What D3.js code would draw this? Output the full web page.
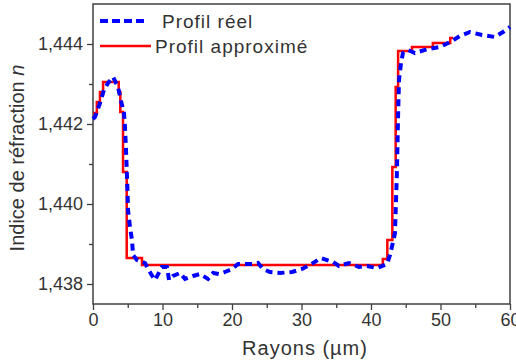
<!DOCTYPE html>
<html>
<head>
<meta charset="utf-8">
<script src="https://cdn.jsdelivr.net/npm/d3@7"></script>
<style>
  html, body { margin: 0; padding: 0; background: #fff; }
  svg { display: block; font-family: "Liberation Sans", Arial, sans-serif; }
</style>
</head>
<body>
<svg id="chart" width="516" height="362"></svg>
<script>
// Measured refractive index profile (radius in µm, index n)
const realX = [0, 0.29, 1.01, 1.58, 2.16, 2.88, 3.6, 4.03, 4.46, 4.6, 4.75, 4.89, 4.96, 5.04, 5.32, 5.61, 5.76, 6.33, 7.48,
  8.35, 8.92, 9.93, 10.65, 10.94, 11.51, 12.52, 13.24, 14.39, 15.4, 16.55, 17.27, 18.13, 18.99, 20.0, 20.86, 21.87, 22.88,
  23.74, 24.46, 25.47, 26.91, 28.63, 30.07, 31.22, 32.81, 34.53, 35.4, 36.83, 38.27, 39.42, 40.86, 42.3, 42.73, 43.17,
  43.45, 43.6, 43.74, 43.88, 44.03, 44.32, 44.6, 45.32, 46.33, 48.2, 49.93, 51.37, 52.81, 54.24, 55.97, 57.84, 58.99, 60.0];
const realN = [1.442125, 1.442175, 1.442525, 1.44285, 1.443025, 1.443175, 1.442925, 1.442575, 1.442275, 1.441925, 1.44135,
  1.440675, 1.44035, 1.43985, 1.439425, 1.4391, 1.438725, 1.4386, 1.438525,
  1.43825, 1.4381, 1.438425, 1.438425, 1.4381, 1.4382, 1.438275, 1.438125, 1.4382, 1.43825, 1.438125, 1.438275, 1.43825,
  1.4383, 1.438375, 1.4385, 1.4385, 1.4385,
  1.438525, 1.438375, 1.4383, 1.438275, 1.4383, 1.438375, 1.438475, 1.43865, 1.43855, 1.43845, 1.438525, 1.438425,
  1.43845, 1.4384, 1.4385, 1.438725, 1.43905,
  1.439275, 1.4401, 1.44085, 1.4421, 1.4431, 1.443525, 1.443775, 1.44385, 1.443775, 1.443875, 1.443925, 1.44405,
  1.4442, 1.4443, 1.444225, 1.444175, 1.4443, 1.444425];

// Step approximation: each index value holds from its radius to the next one
const stepX = [0, 0.55, 1.0, 1.45, 3.7, 3.93, 4.32, 4.85, 7.05, 41.7, 42.35, 43.07, 43.55, 43.9, 45.9, 48.9, 51.4, 51.8];
const stepN = [1.442275, 1.44255, 1.4428, 1.44305, 1.4428, 1.4423, 1.4408, 1.43865, 1.438475, 1.438625, 1.4391,
  1.440925, 1.442925, 1.443825, 1.443925, 1.444025, 1.44415, 1.44415];

const xMajor = [0, 10, 20, 30, 40, 50, 60];
const xMinor = [5, 15, 25, 35, 45, 55];
const yMajor = [1.438, 1.440, 1.442, 1.444];
const yMinor = [1.439, 1.441, 1.443];

const seriesNames = ["Profil réel", "Profil approximé"];
const xTitle = "Rayons (µm)";

const svg = d3.select("#chart");
const plotLeft = 93, plotRight = 510, plotTop = 4, plotBottom = 304;

const x = d3.scaleLinear().domain([0, 60]).range([plotLeft, plotRight]);
const y = d3.scaleLinear().domain([1.4375, 1.445]).range([plotBottom, plotTop]);

const axisColor = "#404040";
const fmt = v => d3.format(".3f")(v).replace(".", ",");

// plot frame
svg.append("rect")
  .attr("x", plotLeft).attr("y", plotTop)
  .attr("width", plotRight - plotLeft).attr("height", plotBottom - plotTop)
  .attr("fill", "none").attr("stroke", axisColor).attr("stroke-width", 1.5);

function styleAxis(g) {
  g.select(".domain").remove();
  g.selectAll(".tick line").attr("stroke", axisColor).attr("stroke-width", 1.3);
  g.selectAll(".tick text").attr("fill", "#333").attr("font-size", 18)
    .attr("font-family", "Liberation Sans, Arial, sans-serif");
}

// x axis
svg.append("g").attr("transform", `translate(0,${plotBottom})`)
  .call(d3.axisBottom(x).tickValues(xMajor).tickSize(6).tickPadding(3).tickFormat(d3.format("d")))
  .call(styleAxis);
svg.append("g").attr("transform", `translate(0,${plotBottom})`)
  .call(d3.axisBottom(x).tickValues(xMinor).tickSize(4).tickFormat(""))
  .call(styleAxis);

// y axis
svg.append("g").attr("transform", `translate(${plotLeft},0)`)
  .call(d3.axisLeft(y).tickValues(yMajor).tickSize(6).tickPadding(4).tickFormat(fmt))
  .call(styleAxis);
svg.append("g").attr("transform", `translate(${plotLeft},0)`)
  .call(d3.axisLeft(y).tickValues(yMinor).tickSize(4).tickFormat(""))
  .call(styleAxis);

// axis titles
svg.append("text")
  .attr("x", 305).attr("y", 355)
  .attr("text-anchor", "middle")
  .attr("font-size", 20).attr("letter-spacing", 1).attr("fill", "#333")
  .text(xTitle);

const yt = svg.append("text")
  .attr("transform", "translate(24,158) rotate(-90)")
  .attr("text-anchor", "middle")
  .attr("font-size", 20).attr("fill", "#333");
yt.append("tspan").text("Indice de réfraction ");
yt.append("tspan").attr("font-style", "italic").text("n");

// curves
const stepLine = d3.line().x(d => x(d[0])).y(d => y(d[1])).curve(d3.curveStepAfter);
const realLine = d3.line().x(d => x(d[0])).y(d => y(d[1]));

svg.append("path")
  .datum(stepX.map((v, i) => [v, stepN[i]]))
  .attr("d", stepLine)
  .attr("fill", "none").attr("stroke", "#ff0000").attr("stroke-width", 2.5);

svg.append("path")
  .datum(realX.map((v, i) => [v, realN[i]]))
  .attr("d", realLine)
  .attr("fill", "none").attr("stroke", "#0000ff").attr("stroke-width", 4)
  .attr("stroke-dasharray", "7,5");

// legend
const legend = svg.append("g");
legend.append("line").attr("x1", 100).attr("x2", 147).attr("y1", 21).attr("y2", 21)
  .attr("stroke", "#0000ff").attr("stroke-width", 4).attr("stroke-dasharray", "8,4");
legend.append("text").attr("x", 162).attr("y", 27.5)
  .attr("font-size", 19).attr("letter-spacing", 1).attr("fill", "#333").text(seriesNames[0]);
legend.append("line").attr("x1", 100).attr("x2", 151).attr("y1", 46).attr("y2", 46)
  .attr("stroke", "#ff0000").attr("stroke-width", 2.5);
legend.append("text").attr("x", 155).attr("y", 53)
  .attr("font-size", 19).attr("letter-spacing", 1).attr("fill", "#333").text(seriesNames[1]);
</script>
</body>
</html>
